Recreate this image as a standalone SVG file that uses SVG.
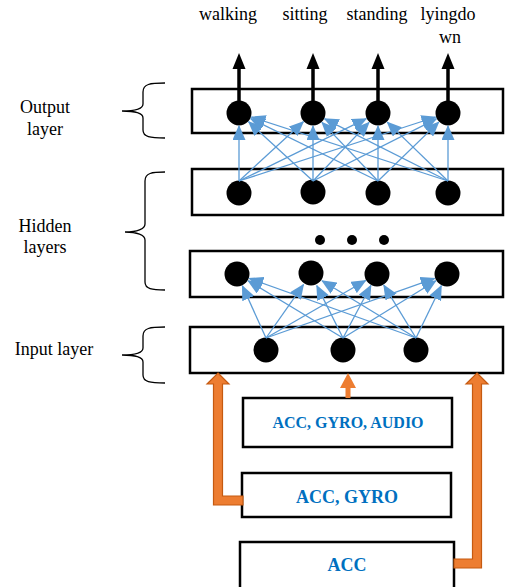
<svg xmlns="http://www.w3.org/2000/svg" width="506" height="587" viewBox="0 0 506 587">
<style>
.box{fill:#fff;stroke:#000;stroke-width:2.5}
.node{fill:#000}
.lbl{font-family:"Liberation Serif","Times New Roman",serif;font-size:18px;fill:#000}
.side{font-family:"Liberation Serif","Times New Roman",serif;font-size:18px;fill:#000}
.brace{fill:none;stroke:#000;stroke-width:1.3}
.blue{stroke:#5B9BD5;stroke-width:1.3;fill:none;marker-end:url(#ah)}
.out{stroke:#000;stroke-width:3.5}
.btxt{font-family:"Liberation Serif","Times New Roman",serif;font-weight:bold;fill:#0070C0;text-anchor:middle}
.orange{fill:#ED7D31;stroke:#C55A11;stroke-width:1.2}
</style>
<defs>
<marker id="ah" markerUnits="userSpaceOnUse" markerWidth="15" markerHeight="13" viewBox="0 0 15 13" refX="14" refY="6.5" orient="auto">
<path d="M0,0 L15,6.5 L0,13 z" fill="#5B9BD5"/>
</marker>
</defs>

<g id="labels-top">
<text class="lbl" x="228" y="20" text-anchor="middle">walking</text>
<text class="lbl" x="305" y="20" text-anchor="middle">sitting</text>
<text class="lbl" x="377" y="20" text-anchor="middle">standing</text>
<text class="lbl" x="448" y="20" text-anchor="middle">lyingdo</text>
<text class="lbl" x="450" y="43" text-anchor="middle">wn</text>
</g>

<g id="side-labels">
<text class="side" x="45" y="113" text-anchor="middle">Output</text>
<text class="side" x="45" y="135" text-anchor="middle">layer</text>
<text class="side" x="45" y="232" text-anchor="middle">Hidden</text>
<text class="side" x="45" y="253" text-anchor="middle">layers</text>
<text class="side" x="54" y="355" text-anchor="middle">Input layer</text>
<path class="brace" d="M165,83 C150,83 143,84 143,92 L143,104 C143,109 135,111 122,111 C135,111 143,113 143,118 L143,130 C143,137 150,138 165,138"/>
<path class="brace" d="M165,172 C152,172 145,173 145,181 L145,224 C145,229 137,232 125,232 C137,232 145,235 145,240 L145,282 C145,289 152,290 165,290"/>
<path class="brace" d="M165,327 C150,327 143,328 143,336 L143,348 C143,353 135,355 122,355 C135,355 143,357 143,362 L143,375 C143,382 150,383 165,383"/>
</g>

<g id="output-layer">
<rect class="box" x="192" y="89" width="311" height="44"/>
<ellipse class="node" cx="239" cy="113" rx="12.5" ry="12.5"/>
<ellipse class="node" cx="313" cy="113" rx="12.5" ry="12.5"/>
<ellipse class="node" cx="378" cy="113" rx="12.5" ry="12.5"/>
<ellipse class="node" cx="448" cy="113" rx="12.5" ry="12.5"/>
</g>

<g id="hidden-layer-1">
<rect class="box" x="192" y="169" width="311" height="46"/>
<ellipse class="node" cx="239" cy="193" rx="12.5" ry="12.5"/>
<ellipse class="node" cx="313" cy="192" rx="12.5" ry="12.5"/>
<ellipse class="node" cx="378" cy="193" rx="12.5" ry="12.5"/>
<ellipse class="node" cx="448" cy="193" rx="12.5" ry="12.5"/>
</g>

<g id="ellipsis">
<circle class="node" cx="320" cy="240" r="5"/>
<circle class="node" cx="352" cy="240" r="5"/>
<circle class="node" cx="384" cy="240" r="5"/>
</g>

<g id="hidden-layer-2">
<rect class="box" x="190" y="251" width="313" height="46"/>
<ellipse class="node" cx="237" cy="274" rx="12.5" ry="12.5"/>
<ellipse class="node" cx="311" cy="273" rx="12.5" ry="12.5"/>
<ellipse class="node" cx="377" cy="274" rx="12.5" ry="12.5"/>
<ellipse class="node" cx="447" cy="274" rx="12.5" ry="12.5"/>
</g>

<g id="input-layer">
<rect class="box" x="190" y="327" width="313" height="46"/>
<ellipse class="node" cx="266" cy="350" rx="12.5" ry="12.5"/>
<ellipse class="node" cx="343" cy="350" rx="12.5" ry="12.5"/>
<ellipse class="node" cx="416" cy="350" rx="12.5" ry="12.5"/>
</g>

<g id="box-acc-gyro-audio">
<rect class="box" x="243" y="398" width="209" height="49"/>
<text class="btxt" x="348" y="428" font-size="16">ACC, GYRO, AUDIO</text>
</g>
<g id="box-acc-gyro">
<rect class="box" x="242" y="473" width="209" height="44"/>
<text class="btxt" x="347" y="503" font-size="18">ACC, GYRO</text>
</g>
<g id="box-acc">
<rect class="box" x="240" y="542" width="214" height="50"/>
<text class="btxt" x="347" y="571" font-size="18">ACC</text>
</g>

<g id="connectors">
<g>
<line class="out" x1="239" y1="113" x2="239" y2="66"/>
<polygon points="239,53 245.5,69 232.5,69" fill="#000"/>
<line class="out" x1="313" y1="113" x2="313" y2="66"/>
<polygon points="313,53 319.5,69 306.5,69" fill="#000"/>
<line class="out" x1="378" y1="113" x2="378" y2="66"/>
<polygon points="378,53 384.5,69 371.5,69" fill="#000"/>
<line class="out" x1="448" y1="113" x2="448" y2="66"/>
<polygon points="448,53 454.5,69 441.5,69" fill="#000"/>
</g>
<g>
<line class="blue" x1="239" y1="181" x2="239" y2="126"/>
<line class="blue" x1="313" y1="181" x2="248.6" y2="121.8"/>
<line class="blue" x1="378" y1="181" x2="250.7" y2="118.7"/>
<line class="blue" x1="448" y1="181" x2="251.4" y2="117"/>
<line class="blue" x1="239" y1="181" x2="303.4" y2="121.8"/>
<line class="blue" x1="313" y1="181" x2="313" y2="126"/>
<line class="blue" x1="378" y1="181" x2="322" y2="122.4"/>
<line class="blue" x1="448" y1="181" x2="324.6" y2="118.8"/>
<line class="blue" x1="239" y1="181" x2="366.3" y2="118.7"/>
<line class="blue" x1="313" y1="181" x2="369" y2="122.4"/>
<line class="blue" x1="378" y1="181" x2="378" y2="126"/>
<line class="blue" x1="448" y1="181" x2="387.3" y2="122.1"/>
<line class="blue" x1="239" y1="181" x2="435.6" y2="117"/>
<line class="blue" x1="313" y1="181" x2="436.4" y2="118.8"/>
<line class="blue" x1="378" y1="181" x2="438.7" y2="122.1"/>
<line class="blue" x1="448" y1="181" x2="448" y2="126"/>
</g>
<g>
<line class="blue" x1="266" y1="338" x2="242.4" y2="285.8"/>
<line class="blue" x1="266" y1="338" x2="303.5" y2="284.6"/>
<line class="blue" x1="266" y1="338" x2="365.7" y2="280.5"/>
<line class="blue" x1="266" y1="338" x2="434.7" y2="278.3"/>
<line class="blue" x1="343" y1="338" x2="248.1" y2="280.7"/>
<line class="blue" x1="343" y1="338" x2="316.8" y2="285.6"/>
<line class="blue" x1="343" y1="338" x2="370.9" y2="285.5"/>
<line class="blue" x1="343" y1="338" x2="435.9" y2="280.8"/>
<line class="blue" x1="416" y1="338" x2="249.2" y2="278.4"/>
<line class="blue" x1="416" y1="338" x2="322.1" y2="280.8"/>
<line class="blue" x1="416" y1="338" x2="383.8" y2="285.1"/>
<line class="blue" x1="416" y1="338" x2="441.3" y2="285.7"/>
</g>
<g>
<polygon class="orange" points="218,373 229,384 222.5,384 222.5,496 243,496 243,505 213.5,505 213.5,384 207,384"/>
<polygon points="348,373 356,388 350.5,388 350.5,398 345.5,398 345.5,388 340,388" fill="#ED7D31"/>
<polygon class="orange" points="477,373 488,384 481.5,384 481.5,568 454,568 454,559 472.5,559 472.5,384 466,384"/>
</g>
</g>
</svg>
